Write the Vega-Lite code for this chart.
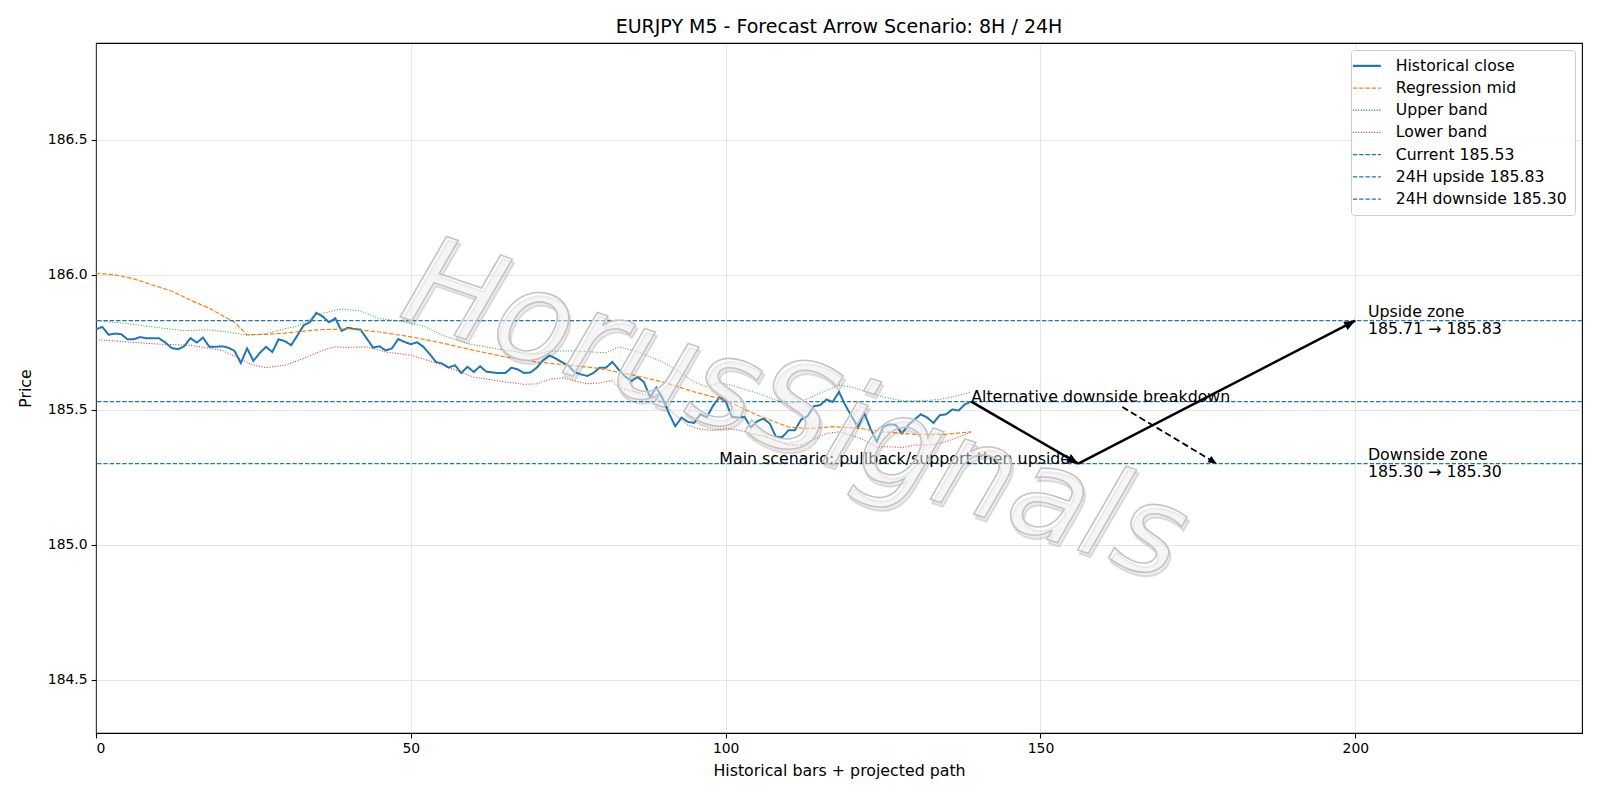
{
  "$schema": "https://vega.github.io/schema/vega-lite/v6.json",
  "width": 1486,
  "height": 690,
  "autosize": {"type": "none"},
  "padding": {"left": 96, "top": 43, "right": 18, "bottom": 67},
  "background": "white",
  "title": {
    "text": "EURJPY M5 - Forecast Arrow Scenario: 8H / 24H",
    "fontSize": 19,
    "fontWeight": "normal",
    "font": "DejaVu Sans",
    "color": "black",
    "baseline": "alphabetic",
    "offset": 8,
    "dy": 17
  },
  "config": {
    "font": "DejaVu Sans",
    "view": {"stroke": "black", "strokeWidth": 1.1},
    "axis": {
      "domain": false,
      "grid": true,
      "gridColor": "#b0b0b0",
      "gridOpacity": 0.3,
      "gridWidth": 1,
      "tickColor": "black",
      "tickSize": 4.9,
      "tickWidth": 1.1,
      "labelFontSize": 13.9,
      "labelColor": "black",
      "labelPadding": 4,
      "titleFontSize": 15.8,
      "titleFontWeight": "normal",
      "titleColor": "black"
    },
    "legend": {
      "orient": "top-right",
      "offset": 7,
      "title": null,
      "fillColor": "rgba(255,255,255,0.8)",
      "strokeColor": "#cccccc",
      "cornerRadius": 3,
      "padding": 8,
      "labelFontSize": 15.7,
      "labelLimit": 400,
      "labelColor": "black",
      "labelOffset": 21,
      "symbolType": "M-1.4,0H1.4",
      "symbolSize": 400,
      "symbolStrokeWidth": 1.3,
      "rowPadding": 5.2
    }
  },
  "datasets": {
    "hist": [
      {"x":0,"y":185.798},{"x":1,"y":185.807},{"x":2,"y":185.778},{"x":3,"y":185.782},{"x":4,"y":185.780},
      {"x":5,"y":185.761},{"x":6,"y":185.761},{"x":7,"y":185.769},{"x":8,"y":185.765},{"x":9,"y":185.765},
      {"x":10,"y":185.765},{"x":11,"y":185.749},{"x":12,"y":185.729},{"x":13,"y":185.724},{"x":14,"y":185.735},
      {"x":15,"y":185.765},{"x":16,"y":185.749},{"x":17,"y":185.767},{"x":18,"y":185.733},{"x":19,"y":185.733},
      {"x":20,"y":185.735},{"x":21,"y":185.730},{"x":22,"y":185.718},{"x":23,"y":185.673},{"x":24,"y":185.727},
      {"x":25,"y":185.681},{"x":26,"y":185.710},{"x":27,"y":185.733},{"x":28,"y":185.714},{"x":29,"y":185.761},
      {"x":30,"y":185.754},{"x":31,"y":185.739},{"x":32,"y":185.776},{"x":33,"y":185.813},{"x":34,"y":185.825},
      {"x":35,"y":185.859},{"x":36,"y":185.846},{"x":37,"y":185.824},{"x":38,"y":185.839},{"x":39,"y":185.792},
      {"x":40,"y":185.804},{"x":41,"y":185.799},{"x":42,"y":185.797},{"x":43,"y":185.764},{"x":44,"y":185.730},
      {"x":45,"y":185.735},{"x":46,"y":185.720},{"x":47,"y":185.727},{"x":48,"y":185.762},{"x":49,"y":185.751},
      {"x":50,"y":185.743},{"x":51,"y":185.750},{"x":52,"y":185.733},{"x":53,"y":185.706},{"x":54,"y":185.677},
      {"x":55,"y":185.671},{"x":56,"y":185.656},{"x":57,"y":185.665},{"x":58,"y":185.636},{"x":59,"y":185.659},
      {"x":60,"y":185.640},{"x":61,"y":185.661},{"x":62,"y":185.641},{"x":63,"y":185.638},{"x":64,"y":185.636},
      {"x":65,"y":185.636},{"x":66,"y":185.656},{"x":67,"y":185.649},{"x":68,"y":185.636},{"x":69,"y":185.638},
      {"x":70,"y":185.656},{"x":71,"y":185.683},{"x":72,"y":185.701},{"x":73,"y":185.690},{"x":74,"y":185.676},
      {"x":75,"y":185.664},{"x":76,"y":185.640},{"x":77,"y":185.631},{"x":78,"y":185.625},{"x":79,"y":185.636},
      {"x":80,"y":185.656},{"x":81,"y":185.656},{"x":82,"y":185.677},{"x":83,"y":185.649},{"x":84,"y":185.624},
      {"x":85,"y":185.606},{"x":86,"y":185.621},{"x":87,"y":185.603},{"x":88,"y":185.547},{"x":89,"y":185.582},
      {"x":90,"y":185.541},{"x":91,"y":185.486},{"x":92,"y":185.439},{"x":93,"y":185.471},{"x":94,"y":185.455},
      {"x":95,"y":185.451},{"x":96,"y":185.484},{"x":97,"y":185.472},{"x":98,"y":185.515},{"x":99,"y":185.546},
      {"x":100,"y":185.531},{"x":101,"y":185.473},{"x":102,"y":185.471},{"x":103,"y":185.473},{"x":104,"y":185.435},
      {"x":105,"y":185.457},{"x":106,"y":185.467},{"x":107,"y":185.449},{"x":108,"y":185.399},{"x":109,"y":185.399},
      {"x":110,"y":185.424},{"x":111,"y":185.424},{"x":112,"y":185.464},{"x":113,"y":185.476},{"x":114,"y":185.513},
      {"x":115,"y":185.517},{"x":116,"y":185.538},{"x":117,"y":185.529},{"x":118,"y":185.566},{"x":119,"y":185.517},
      {"x":120,"y":185.476},{"x":121,"y":185.436},{"x":122,"y":185.488},{"x":123,"y":185.430},{"x":124,"y":185.381},
      {"x":125,"y":185.436},{"x":126,"y":185.446},{"x":127,"y":185.444},{"x":128,"y":185.412},{"x":129,"y":185.443},
      {"x":130,"y":185.464},{"x":131,"y":185.483},{"x":132,"y":185.471},{"x":133,"y":185.451},{"x":134,"y":185.480},
      {"x":135,"y":185.483},{"x":136,"y":185.501},{"x":137,"y":185.497},{"x":138,"y":185.520},{"x":139,"y":185.530}
    ],
    "mid": [
      {"x":0,"y":186.005},{"x":3,"y":186.0},{"x":6,"y":185.985},{"x":9,"y":185.962},{"x":12,"y":185.94},
      {"x":15,"y":185.906},{"x":18,"y":185.876},{"x":20,"y":185.85},{"x":22,"y":185.824},{"x":24,"y":185.778},
      {"x":27,"y":185.779},{"x":30,"y":185.784},{"x":35,"y":185.796},{"x":40,"y":185.800},{"x":45,"y":185.788},
      {"x":50,"y":185.770},{"x":55,"y":185.747},{"x":60,"y":185.720},{"x":65,"y":185.696},{"x":70,"y":185.677},
      {"x":75,"y":185.665},{"x":80,"y":185.653},{"x":85,"y":185.630},{"x":90,"y":185.603},{"x":95,"y":185.566},
      {"x":100,"y":185.535},{"x":105,"y":185.48},{"x":110,"y":185.436},{"x":113,"y":185.430},{"x":117,"y":185.437},
      {"x":121,"y":185.432},{"x":125,"y":185.418},{"x":130,"y":185.409},{"x":135,"y":185.409},{"x":139,"y":185.418}
    ],
    "upper": [
      {"x":0,"y":185.831},{"x":5,"y":185.819},{"x":10,"y":185.804},{"x":14,"y":185.793},{"x":18,"y":185.796},
      {"x":21,"y":185.788},{"x":24,"y":185.776},{"x":27,"y":185.782},{"x":30,"y":185.800},{"x":32,"y":185.81},
      {"x":35,"y":185.852},{"x":39,"y":185.873},{"x":42,"y":185.866},{"x":45,"y":185.838},{"x":49,"y":185.826},
      {"x":52,"y":185.81},{"x":55,"y":185.776},{"x":59,"y":185.745},{"x":65,"y":185.72},{"x":70,"y":185.706},
      {"x":72,"y":185.717},{"x":76,"y":185.718},{"x":81,"y":185.711},{"x":83,"y":185.733},{"x":86,"y":185.715},
      {"x":88,"y":185.696},{"x":90,"y":185.677},{"x":92,"y":185.65},{"x":95,"y":185.603},{"x":97,"y":185.585},
      {"x":99,"y":185.60},{"x":101,"y":185.59},{"x":103,"y":185.575},{"x":105,"y":185.562},{"x":108,"y":185.535},
      {"x":110,"y":185.523},{"x":112,"y":185.530},{"x":115,"y":185.562},{"x":118,"y":185.591},{"x":120,"y":185.584},
      {"x":122,"y":185.570},{"x":125,"y":185.547},{"x":128,"y":185.533},{"x":131,"y":185.533},{"x":134,"y":185.538},
      {"x":136,"y":185.547},{"x":139,"y":185.566}
    ],
    "lower": [
      {"x":0,"y":185.760},{"x":5,"y":185.751},{"x":10,"y":185.743},{"x":15,"y":185.739},{"x":20,"y":185.720},
      {"x":22,"y":185.698},{"x":25,"y":185.665},{"x":27,"y":185.656},{"x":30,"y":185.665},{"x":33,"y":185.690},
      {"x":36,"y":185.720},{"x":38,"y":185.733},{"x":40,"y":185.731},{"x":43,"y":185.733},{"x":46,"y":185.714},
      {"x":50,"y":185.702},{"x":53,"y":185.681},{"x":55,"y":185.665},{"x":60,"y":185.621},{"x":65,"y":185.603},
      {"x":68,"y":185.594},{"x":70,"y":185.596},{"x":72,"y":185.612},{"x":74,"y":185.618},{"x":76,"y":185.607},
      {"x":78,"y":185.596},{"x":80,"y":185.599},{"x":82,"y":185.608},{"x":83,"y":185.582},{"x":85,"y":185.569},
      {"x":88,"y":185.556},{"x":90,"y":185.526},{"x":92,"y":185.480},{"x":94,"y":185.443},{"x":96,"y":185.427},
      {"x":98,"y":185.424},{"x":100,"y":185.430},{"x":102,"y":185.425},{"x":104,"y":185.412},{"x":106,"y":185.402},
      {"x":108,"y":185.387},{"x":110,"y":185.369},{"x":112,"y":185.369},{"x":114,"y":185.390},{"x":116,"y":185.412},
      {"x":118,"y":185.418},{"x":120,"y":185.405},{"x":122,"y":185.387},{"x":124,"y":185.362},{"x":126,"y":185.363},
      {"x":128,"y":185.360},{"x":130,"y":185.369},{"x":132,"y":185.369},{"x":134,"y":185.375},{"x":136,"y":185.390},
      {"x":139,"y":185.418}
    ],
    "levels": [
      {"label": "Current 185.53", "y": 185.53},
      {"label": "24H upside 185.83", "y": 185.83},
      {"label": "24H downside 185.30", "y": 185.30}
    ],
    "mainPath": [
      {"x": 139, "y": 185.53, "xe": 156, "ye": 185.30},
      {"x": 156, "y": 185.30, "xe": 200, "ye": 185.83}
    ],
    "altPath": [
      {"x": 163, "y": 185.51, "xe": 178, "ye": 185.30}
    ],
    "notesBase": [
      {"x": 139, "y": 185.53, "t": "Alternative downside breakdown"},
      {"x": 99, "y": 185.30, "t": "Main scenario: pullback/support then upside"}
    ],
    "notesZone": [
      {"x": 202, "y": 185.83, "t": "Upside zone\n185.71 → 185.83"},
      {"x": 202, "y": 185.30, "t": "Downside zone\n185.30 → 185.30"}
    ]
  },
  "layer": [
    {
      "data": {"name": "hist"},
      "mark": {"type": "line", "strokeWidth": 2, "clip": true},
      "encoding": {
        "x": {
          "field": "x", "type": "quantitative",
          "scale": {"domain": [0, 236], "nice": false, "zero": false},
          "axis": {"values": [0, 50, 100, 150, 200], "title": "Historical bars + projected path", "titlePadding": 8}
        },
        "y": {
          "field": "y", "type": "quantitative",
          "scale": {"domain": [184.302, 186.859], "nice": false, "zero": false},
          "axis": {"values": [184.5, 185.0, 185.5, 186.0, 186.5], "format": ".1f", "title": "Price", "titlePadding": 14}
        },
        "color": {
          "datum": "Historical close", "type": "nominal",
          "scale": {
            "domain": ["Historical close", "Regression mid", "Upper band", "Lower band", "Current 185.53", "24H upside 185.83", "24H downside 185.30"],
            "range": ["#1f77b4", "#ff7f0e", "#2ca02c", "#d62728", "#1f77b4", "#1f77b4", "#1f77b4"]
          },
          "legend": {
            "encode": {
              "symbols": {"update": {"strokeWidth": {"signal": "datum.value === 'Historical close' ? 2.2 : 1.3"}}}
            }
          }
        },
        "strokeDash": {
          "datum": "Historical close", "type": "nominal",
          "scale": {
            "domain": ["Historical close", "Regression mid", "Upper band", "Lower band", "Current 185.53", "24H upside 185.83", "24H downside 185.30"],
            "range": [[1, 0], [4.4, 1.9], [1, 1.65], [1, 1.65], [4.4, 1.9], [4.4, 1.9], [4.4, 1.9]]
          }
        }
      }
    },
    {
      "data": {"name": "mid"},
      "mark": {"type": "line", "strokeWidth": 1.2},
      "encoding": {
        "x": {"field": "x", "type": "quantitative"},
        "y": {"field": "y", "type": "quantitative"},
        "color": {"datum": "Regression mid", "type": "nominal"},
        "strokeDash": {"datum": "Regression mid", "type": "nominal"}
      }
    },
    {
      "data": {"name": "upper"},
      "mark": {"type": "line", "strokeWidth": 1},
      "encoding": {
        "x": {"field": "x", "type": "quantitative"},
        "y": {"field": "y", "type": "quantitative"},
        "color": {"datum": "Upper band", "type": "nominal"},
        "strokeDash": {"datum": "Upper band", "type": "nominal"}
      }
    },
    {
      "data": {"name": "lower"},
      "mark": {"type": "line", "strokeWidth": 1},
      "encoding": {
        "x": {"field": "x", "type": "quantitative"},
        "y": {"field": "y", "type": "quantitative"},
        "color": {"datum": "Lower band", "type": "nominal"},
        "strokeDash": {"datum": "Lower band", "type": "nominal"}
      }
    },
    {
      "data": {"name": "levels"},
      "mark": {"type": "rule", "strokeWidth": 1.2},
      "encoding": {
        "y": {"field": "y", "type": "quantitative"},
        "color": {"field": "label", "type": "nominal"},
        "strokeDash": {"field": "label", "type": "nominal"}
      }
    },
    {
      "data": {"name": "mainPath"},
      "mark": {"type": "rule", "color": "black", "strokeWidth": 2.5},
      "encoding": {
        "x": {"field": "x", "type": "quantitative"},
        "y": {"field": "y", "type": "quantitative"},
        "x2": {"field": "xe"},
        "y2": {"field": "ye"}
      }
    },
    {
      "data": {"name": "altPath"},
      "mark": {"type": "rule", "color": "black", "strokeWidth": 1.8, "strokeDash": [6.5, 3.5]},
      "encoding": {
        "x": {"field": "x", "type": "quantitative"},
        "y": {"field": "y", "type": "quantitative"},
        "x2": {"field": "xe"},
        "y2": {"field": "ye"}
      }
    },
    {
      "data": {"values": [{"x": 156, "y": 185.30}]},
      "mark": {"type": "point", "shape": "M0,0L-1,-0.42L-1,0.42Z", "size": 500, "filled": true, "color": "black", "opacity": 1, "angle": 30.1},
      "encoding": {
        "x": {"field": "x", "type": "quantitative"},
        "y": {"field": "y", "type": "quantitative"}
      }
    },
    {
      "data": {"values": [{"x": 200, "y": 185.83}]},
      "mark": {"type": "point", "shape": "M0,0L-1,-0.42L-1,0.42Z", "size": 500, "filled": true, "color": "black", "opacity": 1, "angle": 332.7},
      "encoding": {
        "x": {"field": "x", "type": "quantitative"},
        "y": {"field": "y", "type": "quantitative"}
      }
    },
    {
      "data": {"values": [{"x": 178, "y": 185.30}]},
      "mark": {"type": "point", "shape": "M0,0L-1,-0.42L-1,0.42Z", "size": 300, "filled": true, "color": "black", "opacity": 1, "angle": 31},
      "encoding": {
        "x": {"field": "x", "type": "quantitative"},
        "y": {"field": "y", "type": "quantitative"}
      }
    },
    {
      "data": {"name": "notesBase"},
      "mark": {"type": "text", "align": "left", "baseline": "alphabetic", "fontSize": 15.8, "color": "black"},
      "encoding": {
        "x": {"field": "x", "type": "quantitative"},
        "y": {"field": "y", "type": "quantitative"},
        "text": {"field": "t"}
      }
    },
    {
      "data": {"name": "notesZone"},
      "mark": {"type": "text", "align": "left", "baseline": "middle", "fontSize": 15.8, "lineHeight": 17.5, "lineBreak": "\n", "dy": -8.75, "color": "black"},
      "encoding": {
        "x": {"field": "x", "type": "quantitative"},
        "y": {"field": "y", "type": "quantitative"},
        "text": {"field": "t"}
      }
    },
    {
      "data": {"values": [{"t": "HorusSignals"}]},
      "mark": {"type": "text", "align": "center", "baseline": "middle", "fontSize": 125, "fontStyle": "italic", "angle": 19, "dx": 3, "dy": 3, "fill": "#000000", "fillOpacity": 0.07, "stroke": "#888888", "strokeOpacity": 0.25, "strokeWidth": 2},
      "encoding": {
        "x": {"datum": 111},
        "y": {"datum": 185.49},
        "text": {"field": "t"}
      }
    },
    {
      "data": {"values": [{"t": "HorusSignals"}]},
      "mark": {"type": "text", "align": "center", "baseline": "middle", "fontSize": 125, "fontStyle": "italic", "angle": 19, "fill": "#ffffff", "fillOpacity": 0.45, "stroke": "#c4c4c4", "strokeWidth": 1.6},
      "encoding": {
        "x": {"datum": 111},
        "y": {"datum": 185.49},
        "text": {"field": "t"}
      }
    }
  ]
}
